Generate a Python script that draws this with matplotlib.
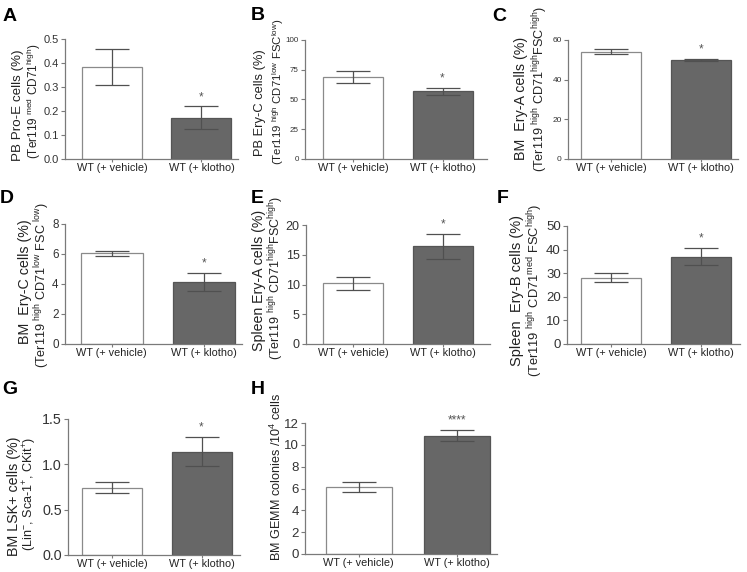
import matplotlib
matplotlib.use("Agg")
import matplotlib.pyplot as plt

plt.rcParams["font.family"] = ["Liberation Sans", "DejaVu Sans"]
plt.rcParams["mathtext.fontset"] = "custom"
plt.rcParams["mathtext.rm"] = "Liberation Sans"
plt.rcParams["mathtext.it"] = "Liberation Sans:italic"
plt.rcParams["mathtext.bf"] = "Liberation Sans:bold"

# ---- data ----
groups = ["WT (+ vehicle)", "WT (+ klotho)"]
panel_letters = ["A", "B", "C", "D", "E", "F", "G", "H"]

means_a = [0.385, 0.172]
sems_a = [0.075, 0.047]
means_b = [69.0, 57.0]
sems_b = [5.0, 2.8]
means_c = [54.0, 50.0]
sems_c = [1.3, 0.5]
means_d = [6.05, 4.15]
sems_d = [0.17, 0.6]
means_e = [10.2, 16.4]
sems_e = [1.1, 2.1]
means_f = [28.1, 37.0]
sems_f = [2.0, 3.6]
means_g = [0.74, 1.14]
sems_g = [0.06, 0.16]
means_h = [6.15, 10.85]
sems_h = [0.45, 0.5]

ticks_a = [0.0, 0.1, 0.2, 0.3, 0.4, 0.5]
ticks_b = [0, 25, 50, 75, 100]
ticks_c = [0, 20, 40, 60]
ticks_d = [0, 2, 4, 6, 8]
ticks_e = [0, 5, 10, 15, 20]
ticks_f = [0, 10, 20, 30, 40, 50]
ticks_g = [0.0, 0.5, 1.0, 1.5]
ticks_h = [0, 2, 4, 6, 8, 10, 12]

signif = ["*", "*", "*", "*", "*", "*", "*", "****"]

S = "${}^{\\mathrm{%s}}$"
label_line1 = [
    "PB Pro-E cells (%)",
    "PB Ery-C cells (%)",
    "BM  Ery-A cells (%)",
    "BM  Ery-C cells (%)",
    "Spleen Ery-A cells (%)",
    "Spleen  Ery-B cells (%)",
    "BM LSK+ cells (%)",
    "BM GEMM colonies /10" + S % "4" + " cells",
]
label_line2 = [
    "(Ter119 " + S % "med" + " CD71" + S % "high" + ")",
    "(Ter119 " + S % "high" + " CD71" + S % "low" + " FSC" + S % "low" + ")",
    "(Ter119 " + S % "high" + " CD71" + S % "high" + "FSC" + S % "high" + ")",
    "(Ter119 " + S % "high" + " CD71" + S % "low" + " FSC " + S % "low" + ")",
    "(Ter119 " + S % "high" + " CD71" + S % "high" + "FSC" + S % "high" + ")",
    "(Ter119 " + S % "high" + " CD71" + S % "med" + " FSC" + S % "high" + ")",
    "(Lin" + S % "-" + ", Sca-1" + S % "+" + ", CKit" + S % "+" + ")",
    None,
]

all_means = [means_a, means_b, means_c, means_d, means_e, means_f, means_g, means_h]
all_sems = [sems_a, sems_b, sems_c, sems_d, sems_e, sems_f, sems_g, sems_h]
all_ticks = [ticks_a, ticks_b, ticks_c, ticks_d, ticks_e, ticks_f, ticks_g, ticks_h]
tick_fmt = ["{:.1f}", "{:d}", "{:d}", "{:d}", "{:d}", "{:d}", "{:.1f}", "{:d}"]

# ---- layout in pixels: axis left, top, right, bottom, bar centres, bar width ----
W, H = 747, 572
layout = [
    (65, 39, 238, 159, 112, 201.5, 60),
    (305, 40, 487, 159, 353, 442.5, 60),
    (568, 40, 738, 159, 611, 701, 60),
    (65, 224, 242, 344, 111.5, 204, 62),
    (306, 225, 490, 344, 353, 443, 60),
    (567, 226, 740, 344, 611, 701, 60),
    (68, 419, 240, 555, 112, 201.5, 60),
    (305, 423, 497, 554, 358.5, 457, 66),
]
# y-label lines: x of line 1, x of line 2, y centre of line 1, y centre of line 2, font size
label_pos = [
    (18, 34, 105, 101, 9.6),
    (260, 278, 103, 92, 9.3),
    (521, 540, 98, 89, 10.3),
    (25, 42, 282, 285, 10.3),
    (259, 276, 280, 278, 10.2),
    (517, 535, 291, 290, 10.5),
    (14, 30, 496, 494, 10.3),
    (276, None, 477, None, 9.1),
]
LINE2_SCALE = 0.88
ytick_size = [8, 5.8, 6, 8.4, 9, 9.5, 10.3, 9.5]
letter_pos = [(3, 8), (251, 7), (492, 8), (0, 190), (251, 190), (497, 190), (2, 381), (251, 381)]

AXIS_GRAY = "#7a7a7a"
TEXT_GRAY = "#333333"
BAR_DARK = "#676767"

fig = plt.figure(figsize=(W / 100, H / 100), dpi=100)

for i in range(8):
    left, top, right, bottom, c0, c1, bw = layout[i]
    ax = fig.add_axes([left / W, 1 - bottom / H, (right - left) / W, (bottom - top) / H])
    s = c1 - c0
    ax.set_xlim((left - c0) / s, (right - c0) / s)
    m = all_means[i]
    e = all_sems[i]
    ax.bar([0, 1], m, width=bw / s, color=["white", BAR_DARK],
           edgecolor=["#8a8a8a", "#555555"], linewidth=0.9, zorder=2)
    ax.errorbar([0, 1], m, yerr=e, fmt="none", ecolor="#505050",
                elinewidth=0.9, capsize=12.5, capthick=0.9, zorder=3)
    t = all_ticks[i]
    ax.set_ylim(t[0], t[-1])
    ax.set_yticks(t)
    ax.set_yticklabels([tick_fmt[i].format(v) for v in t])
    ax.set_xticks([0, 1])
    ax.set_xticklabels(groups)
    for side in ("top", "right"):
        ax.spines[side].set_visible(False)
    for side in ("left", "bottom"):
        ax.spines[side].set_color(AXIS_GRAY)
        ax.spines[side].set_linewidth(0.9)
    ax.tick_params(axis="y", length=3, width=0.8, color=AXIS_GRAY,
                   labelsize=ytick_size[i], labelcolor=TEXT_GRAY, pad=1.5)
    ax.tick_params(axis="x", length=2, width=0.8, color=AXIS_GRAY,
                   labelsize=7.8, labelcolor="#222222", pad=1)
    ax.annotate(signif[i], xy=(1, m[1] + e[1]), xytext=(0, 2.5),
                textcoords="offset points", ha="center", va="bottom",
                fontsize=8.5, color="#555555")

    x1, x2, y1, y2, fs = label_pos[i]
    fig.text(x1 / W, 1 - y1 / H, label_line1[i], rotation=90, ha="center",
             va="center", fontsize=fs, color="#222222")
    if label_line2[i] is not None:
        fig.text(x2 / W, 1 - y2 / H, label_line2[i], rotation=90, ha="center",
                 va="center", fontsize=fs * LINE2_SCALE, color="#222222")

    lx, ly = letter_pos[i]
    fig.text(lx / W, 1 - ly / H, panel_letters[i], fontsize=14,
             fontweight="bold", ha="left", va="top", color="black")

fig.savefig("out.png", dpi=100)
